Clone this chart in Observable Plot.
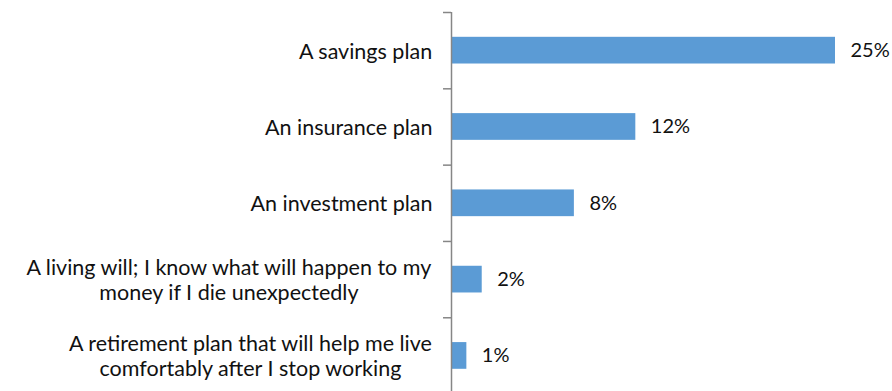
<!DOCTYPE html>
<html>
<head>
<meta charset="utf-8">
<script src="https://cdn.jsdelivr.net/npm/d3@7"></script>
<script src="https://cdn.jsdelivr.net/npm/@observablehq/plot@0.6"></script>
<style>
  html, body { margin: 0; padding: 0; background: #fff; }
  svg { display: block; }
</style>
</head>
<body>
<div id="chart"></div>
<script>
const categories = [
  "A savings plan",
  "An insurance plan",
  "An investment plan",
  "A living will; I know what will happen to my\nmoney if I die unexpectedly",
  "A retirement plan that will help me live\ncomfortably after I stop working"
];
const values = [25, 12, 8, 2, 1];
const valueLabels = ["25%", "12%", "8%", "2%", "1%"];
const boundaries = [0, 1, 2, 3, 4, 5];

const FONT = "Lato, 'Open Sans', sans-serif";
const FS = 21.5;
const VFS = 20;
const data = categories.map((c, i) => ({cat: c, value: values[i], label: valueLabels[i], idx: i}));

// measure widest line of each label so multi-line blocks are centered and right-aligned
const ctx = document.createElement("canvas").getContext("2d");
ctx.font = `${FS}px Lato`;
const widest = s => Math.max(...s.split("\n").map(l => ctx.measureText(l).width));
const gap = 19;

const labelMarks = data.map(d =>
  Plot.text([d], {
    x: () => 0,
    y: d => d.idx + 0.5,
    text: "cat",
    textAnchor: "middle",
    lineAnchor: "middle",
    lineHeight: 1.16,
    dx: -(gap + widest(d.cat) / 2),
    fontSize: FS,
    fill: "#111"
  })
);

const chart = Plot.plot({
  width: 892,
  height: 391,
  marginLeft: 451,
  marginRight: 57,
  marginTop: 12,
  marginBottom: 0,
  style: {fontFamily: FONT, fontSize: FS + "px", background: "#fff"},
  x: {domain: [0, 25], range: [451, 835], axis: null},
  y: {domain: [0, 5], range: [12, 393.6], axis: null},
  marks: [
    Plot.rect(data, {
      x1: () => 0,
      x2: "value",
      y1: d => d.idx + 0.325,
      y2: d => d.idx + 0.675,
      fill: "#5B9BD5",
      inset: 0
    }),
    Plot.ruleY(boundaries, {
      y: d => d,
      x1: () => -0.52,
      x2: () => 0,
      stroke: "#868686",
      strokeWidth: 1.5
    }),
    Plot.ruleX([0], {y1: 0, y2: 5, stroke: "#868686", strokeWidth: 1.5}),
    Plot.text(data, {
      x: "value",
      y: d => d.idx + 0.5,
      text: "label",
      textAnchor: "start",
      dx: 15,
      fontSize: VFS,
      fill: "#111"
    }),
    ...labelMarks
  ]
});
document.getElementById("chart").appendChild(chart);
</script>
</body>
</html>
